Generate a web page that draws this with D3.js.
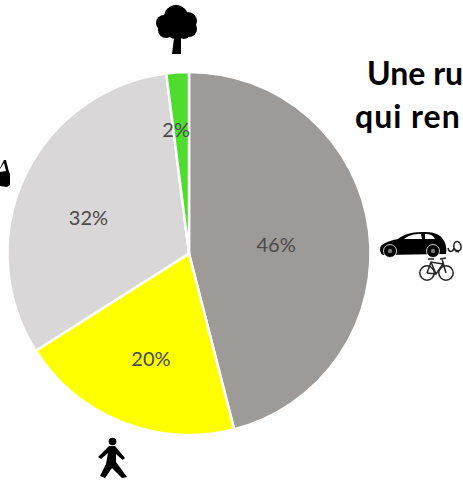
<!DOCTYPE html>
<html>
<head>
<meta charset="utf-8">
<script src="https://cdn.jsdelivr.net/npm/d3@7"></script>
<style>
  html, body { margin: 0; padding: 0; background: #fff; overflow: hidden; }
  svg { display: block; }
</style>
</head>
<body>
<div id="mainDiv"></div>
<script>
'use strict';

// values
var categories = ['voiture', 'pieton', 'stationnement', 'arbre'];
var shares = [46, 20, 32, 2];
var sliceColors = ['#9e9a98', '#ffff00', '#d9d7d8', '#4fdc2e'];
var titleLines = ['Une ru', 'qui ren'];

var myApp = {};
myApp.w = 463;
myApp.h = 482;
myApp.cx = 189;
myApp.cy = 253.5;
myApp.r = 181.5;

myApp.appendSvg = function(div)
{
    myApp.svg = d3.select(div).append('svg')
        .attr('width', myApp.w)
        .attr('height', myApp.h);
}

myApp.buildPie = function()
{
    var pie = d3.pie().sort(null).value(function(d){ return d.share; });
    var arc = d3.arc().innerRadius(0).outerRadius(myApp.r);
    var labelArc = d3.arc().innerRadius(myApp.r * 0.6).outerRadius(myApp.r * 0.6);

    var data = categories.map(function(c, i){
        return {name: c, share: shares[i], color: sliceColors[i]};
    });

    var g = myApp.svg.append('g')
        .attr('transform', 'translate(' + myApp.cx + ',' + myApp.cy + ')');

    g.selectAll('path')
        .data(pie(data))
        .enter()
        .append('path')
        .attr('d', arc)
        .attr('fill', function(d){ return d.data.color; })
        .attr('stroke', '#fff')
        .attr('stroke-width', 2.5);

    // labels were moved by hand in the original, so nudge them off the centroid
    var nudge = {voiture: [-21, 7], pieton: [2, 6], stationnement: [-2, 13], arbre: [-6, -13]};

    g.selectAll('text')
        .data(pie(data))
        .enter()
        .append('text')
        .attr('transform', function(d){
            var c = labelArc.centroid(d), n = nudge[d.data.name];
            return 'translate(' + (c[0] + n[0]) + ',' + (c[1] + n[1]) + ')';
        })
        .attr('text-anchor', 'middle')
        .attr('dominant-baseline', 'middle')
        .attr('font-family', 'Lato, "Open Sans", sans-serif')
        .attr('font-size', 20)
        .attr('fill', '#4a4a4a')
        .text(function(d){ return d.data.share + '%'; });
}

myApp.buildTitle = function()
{
    myApp.svg.selectAll('text.title')
        .data(titleLines)
        .enter()
        .append('text')
        .attr('class', 'title')
        .attr('x', function(d, i){ return i === 0 ? 367 : 355; })
        .attr('y', function(d, i){ return i === 0 ? 85 : 128; })
        .attr('font-family', 'Lato, "Open Sans", sans-serif')
        .attr('font-weight', 700)
        .attr('font-size', 32)
        .attr('letter-spacing', function(d, i){ return i === 0 ? 0 : 1; })
        .attr('fill', '#000')
        .text(function(d){ return d; });
}

myApp.drawTree = function(g)
{
    [[176, 17, 12], [164, 23, 8], [188, 21, 9], [189, 29, 8], [166, 30, 8], [175, 32, 7], [184, 33, 6], [176, 24, 14]].forEach(function(c){
        g.append('circle').attr('cx', c[0]).attr('cy', c[1]).attr('r', c[2]);
    });
    g.append('path').attr('d', 'M172 54 L174 38 L170 34 L185 34 L181 38 L181 54 Z');
}

myApp.carPath = 'M380 249 C380 244 388 241 398 239 C403 235 410 232 422 232 C432 232 438 233 442 238 '
    + 'C446 242 447 249 446 254 L383 255 C381 254 380 252 380 249 Z';

myApp.drawCar = function(g)
{
    g.append('path').attr('d', myApp.carPath);
    g.append('path').attr('d', 'M404 239 C409 235 414 234 421 234 L422 239 Z').attr('fill', '#fff');
    g.append('path').attr('d', 'M425 234 C430 234 433 235 435 239 L425 239 Z').attr('fill', '#fff');
    [390, 433].forEach(function(x){
        g.append('circle').attr('cx', x).attr('cy', 251).attr('r', 6.5)
            .attr('stroke', '#fff').attr('stroke-width', 0.8);
        g.append('circle').attr('cx', x).attr('cy', 251).attr('r', 2.2).attr('fill', '#777');
    });
    g.append('path')
        .attr('d', 'M448 248 C449 253 453 252 454 248 C456 252 462 252 461 246 C460 241 456 240 454 244 C453 248 455 252 459 252')
        .attr('fill', 'none').attr('stroke', '#222').attr('stroke-width', 1.5);
}

myApp.drawBike = function(g)
{
    var line = g.append('g').attr('fill', 'none').attr('stroke', '#222').attr('stroke-width', 1.5);
    [[427, 273], [446, 273]].forEach(function(c){
        line.append('circle').attr('cx', c[0]).attr('cy', c[1]).attr('r', 7.2);
    });
    line.append('path').attr('d', 'M427 273 L431 262 L443 264 L436 274 L427 273 M431 262 L436 274 M442 259 L446 273 M428 259 L434 259 M440 259 L446 258');
}

myApp.drawWalker = function(g)
{
    g.append('circle').attr('cx', 112.5).attr('cy', 441.5).attr('r', 3.8);
    g.append('path').attr('d', 'M109 446 L115 446 L125 458 L122.5 460 L116 454 L116 462 L127 477 L122 478 '
        + 'L112 468 L105 478 L100 476 L106 464 L108 453 L101 459 L98 457 Z');
}

myApp.drawLeftCar = function(g)
{
    g.append('path').attr('d', 'M0 168 L4 160 L6 160 L9 172 L10 174 L10 185 L7 187 L0 186 Z');
    g.append('path').attr('d', 'M0 169 L4 163 L6 171 L0 172 Z').attr('fill', '#fff');
}

myApp.buildIcons = function()
{
    var g = myApp.svg.append('g').attr('fill', '#000');
    myApp.drawTree(g);
    myApp.drawCar(g);
    myApp.drawBike(g);
    myApp.drawWalker(g);
    myApp.drawLeftCar(g);
}

myApp.run = function()
{
    myApp.appendSvg('#mainDiv');
    myApp.buildPie();
    myApp.buildTitle();
    myApp.buildIcons();
}

window.onload = myApp.run;
</script>
</body>
</html>
